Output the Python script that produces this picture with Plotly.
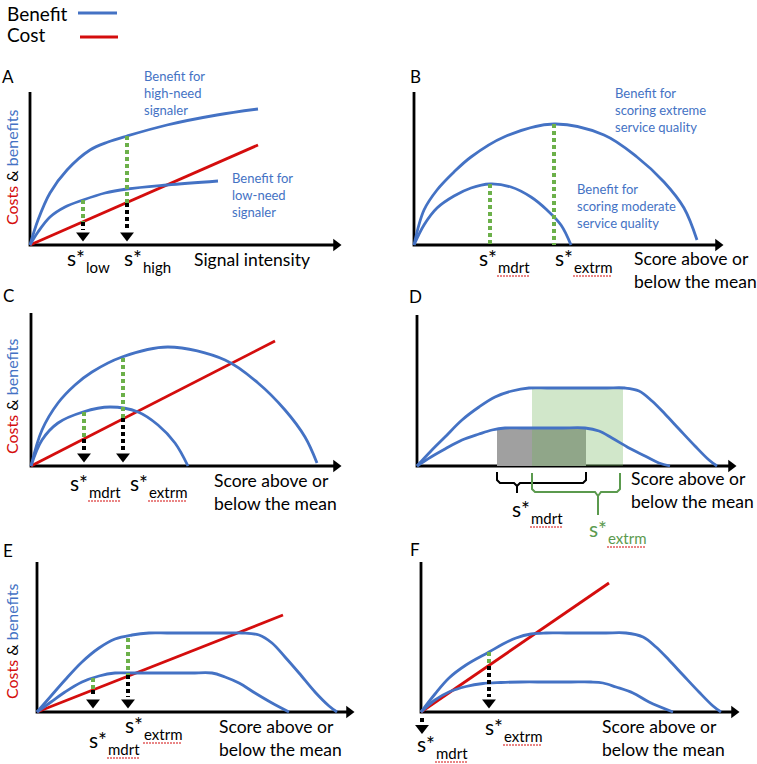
import plotly.graph_objects as go

W, H = 757, 764
FONT = "Lato"
BLUE = "#4472C4"
RED = "#D40D0D"
GREEN = "#6CB04A"
DGREEN = "#5B9A4E"
BLACK = "#000000"

# ---------------- data (panel units: x = score, y = cost/benefit; origin at axes corner) ----
# Panel A
A_high_x = [0, 8, 20, 37, 60, 78, 97, 137, 187, 228]
A_high_y = [0, 25, 52, 75, 95, 103, 109, 120, 130, 136]
A_low_x = [0, 8, 20, 35, 53, 75, 97, 137, 188]
A_low_y = [0, 13, 28, 38, 45, 52, 56, 60, 64]
A_cost_x = [0, 228]
A_cost_y = [0, 100]
A_opt_x = [53, 97]
A_opt_ben = [45, 109]
A_opt_cost = [23, 42]

# Panel B
B_ext_x = [0, 10, 23, 40, 57, 90, 140, 190, 223, 250, 270, 283]
B_ext_y = [0, 35, 55, 73, 88, 108, 121, 110, 88, 63, 37, 5]
B_mod_x = [0, 10, 23, 40, 57, 76, 97, 117, 133, 147, 157]
B_mod_y = [0, 20, 37, 49, 57, 61, 58, 48, 35, 20, 0]
B_opt_x = [76, 140]
B_opt_ben = [61, 121]

# Panel C
C_ext_x = [0, 11, 27, 44, 61, 91, 137, 194, 227, 254, 274, 286]
C_ext_y = [0, 36, 63, 81, 94, 109, 119, 106, 83, 56, 29, 3]
C_mod_x = [0, 11, 27, 52, 79, 107, 127, 144, 157]
C_mod_y = [0, 26, 43, 54, 59, 54, 41, 23, 0]
C_cost_x = [0, 244]
C_cost_y = [0, 125]
C_opt_x = [53, 92]
C_opt_ben = [54, 108]
C_opt_cost = [27, 48]

# Panel D
D_ext_x = [0, 14, 28, 45, 62, 78, 95, 112, 130, 150, 170, 190, 208, 222, 235, 248, 262, 278, 292, 300]
D_ext_y = [0, 15, 29, 46, 59, 69, 75, 78, 78, 78, 78, 78, 78, 75, 65, 52, 37, 20, 6, 0]
D_mod_x = [0, 14, 28, 45, 62, 75, 88, 105, 125, 145, 168, 182, 195, 212, 228, 242, 253]
D_mod_y = [0, 9, 17, 26, 32, 36, 38, 38, 38, 38, 38, 35, 28, 18, 10, 3, 0]
D_mod_range = [80, 169]
D_ext_range = [115, 206]

# Panel E
E_ext_x = [0, 14, 28, 45, 62, 78, 95, 112, 130, 150, 170, 190, 205, 222, 235, 248, 262, 278, 292, 300]
E_ext_y = [0, 16, 32, 50, 64, 73, 77, 79, 79, 79, 79, 79, 79, 77, 69, 55, 39, 20, 6, 0]
E_mod_x = [0, 14, 28, 45, 62, 78, 95, 115, 135, 155, 175, 188, 202, 218, 235, 252]
E_mod_y = [0, 10, 20, 30, 36, 39, 39, 39, 39, 39, 39, 35, 29, 19, 9, 0]
E_cost_x = [0, 246]
E_cost_y = [0, 97]
E_opt_x = [56, 91]
E_opt_ben = [34, 74]
E_opt_cost = [22, 37]

# Panel F
F_ext_x = [0, 14, 28, 45, 68, 82, 95, 110, 125, 145, 165, 185, 205, 222, 235, 248, 262, 278, 292, 300]
F_ext_y = [0, 18, 34, 47, 60, 68, 74, 78, 79, 79, 79, 79, 79, 75, 65, 52, 37, 20, 6, 0]
F_mod_x = [0, 14, 28, 45, 62, 80, 100, 125, 150, 170, 182, 195, 212, 228, 252]
F_mod_y = [0, 12, 20, 25.5, 28.5, 29.5, 30, 30, 30, 30, 29, 25, 19, 10, 0]
F_cost_x = [0, 188]
F_cost_y = [0, 129]
F_opt_x = [68]
F_opt_ben = [60]
F_opt_cost = [46]
F_mdrt_x = 1

# ---------------- layout of panels (pixel position of each axes origin) ----------------
ORIGIN = {"A": (30, 245), "B": (414, 245), "C": (31, 466),
          "D": (417, 466), "E": (37, 712), "F": (421, 712)}
AXLEN = {"A": (310, 153), "B": (308, 153), "C": (309, 153),
         "D": (318, 151), "E": (316, 150), "F": (317, 150)}
IDX = {k: i + 1 for i, k in enumerate("ABCDEF")}

fig = go.Figure()


def ax(p):
    i = IDX[p]
    return ("x" if i == 1 else f"x{i}"), ("y" if i == 1 else f"y{i}")


def line(p, x, y, color, width=2.8, dash=None, shape="linear", smoothing=1.0):
    xa, ya = ax(p)
    ln = dict(color=color, width=width, dash=dash, shape=shape)
    if shape == "spline":
        ln["smoothing"] = smoothing
    fig.add_trace(go.Scatter(x=x, y=y, xaxis=xa, yaxis=ya, mode="lines", line=ln,
                             hoverinfo="skip", showlegend=False))


def marker(p, x, y, symbol, size, color=BLACK):
    xa, ya = ax(p)
    fig.add_trace(go.Scatter(x=x, y=y, xaxis=xa, yaxis=ya, mode="markers",
                             marker=dict(symbol=symbol, size=size, color=color,
                                         line=dict(width=0)),
                             hoverinfo="skip", showlegend=False))


def text(p, x, y, s, size=17.5, color=BLACK, xanchor="left", yanchor="middle", angle=0):
    xa, ya = ax(p)
    fig.add_annotation(x=x, y=y, xref=xa, yref=ya, text=s, showarrow=False,
                       xanchor=xanchor, yanchor=yanchor, textangle=angle,
                       font=dict(family=FONT, size=size, color=color), align="left")


SUBW = {"mdrt": 32, "extrm": 38}


def sstar(p, x, y, sub, color=BLACK):
    text(p, x, y, "s*", size=21, color=color)
    text(p, x + 19, y - 10, sub, size=15, color=color)
    if sub in SUBW:  # spell-check squiggle under the subscript
        line(p, [x + 20, x + 20 + SUBW[sub]], [y - 19, y - 19], RED, width=1.2, dash="2px,1px")


def axes(p):
    xl, yl = AXLEN[p]
    line(p, [0, 0, xl - 6], [yl, 0, 0], BLACK, width=2.8)
    marker(p, [xl - 4], [0], "triangle-right", 11)


def drops(p, xs, ben, cost):
    for x, b, c in zip(xs, ben, cost):
        line(p, [x, x], [b, c], GREEN, width=4, dash="4px,3px")
        line(p, [x, x], [c, 15], BLACK, width=4, dash="4px,3px")
        marker(p, [x], [9.5], "triangle-down", 12)


def ylabel(p, x, y):
    text(p, x, y, f"<span style='color:{RED}'>Costs</span> &amp; "
                  f"<span style='color:{BLUE}'>benefits</span>",
         size=16, xanchor="center", yanchor="middle", angle=-90)


SCORE = "Score above or<br>below the mean"

for p in "ABCDEF":
    axes(p)

# Panel A
line("A", A_cost_x, A_cost_y, RED)
line("A", A_high_x, A_high_y, BLUE, shape="spline")
line("A", A_low_x, A_low_y, BLUE, shape="spline")
drops("A", A_opt_x, A_opt_ben, A_opt_cost)
text("A", -22, 169, "A", size=17, xanchor="center")
text("A", 112, 152, "Benefit for<br>high-need<br>signaler", size=13, color=BLUE)
text("A", 200, 50, "Benefit for<br>low-need<br>signaler", size=13, color=BLUE)
sstar("A", 35, -12, "low")
sstar("A", 92, -12, "high")
text("A", 162, -14, "Signal intensity")
ylabel("A", -19, 77)

# Panel B
line("B", B_ext_x, B_ext_y, BLUE, shape="spline")
line("B", B_mod_x, B_mod_y, BLUE, shape="spline")
for x, b in zip(B_opt_x, B_opt_ben):
    line("B", [x, x], [b, 0], GREEN, width=4, dash="4px,3px")
text("B", 1, 169, "B", size=17, xanchor="center")
text("B", 199, 135, "Benefit for<br>scoring extreme<br>service quality", size=13, color=BLUE)
text("B", 161, 39, "Benefit for<br>scoring moderate<br>service quality", size=13, color=BLUE)
sstar("B", 63, -12, "mdrt")
sstar("B", 139, -12, "extrm")
text("B", 218, -25, SCORE)

# Panel C
line("C", C_cost_x, C_cost_y, RED)
line("C", C_ext_x, C_ext_y, BLUE, shape="spline")
line("C", C_mod_x, C_mod_y, BLUE, shape="spline")
drops("C", C_opt_x, C_opt_ben, C_opt_cost)
text("C", -23, 171, "C", size=17, xanchor="center")
sstar("C", 37, -16, "mdrt")
sstar("C", 97, -16, "extrm")
text("C", 181, -26, SCORE)
ylabel("C", -20, 69)

# Panel D
xa, ya = ax("D")
g0, g1 = D_mod_range
e0, e1 = D_ext_range
fig.add_trace(go.Scatter(x=[g0, g1, g1, g0, g0], y=[0, 0, max(D_mod_y), max(D_mod_y), 0],
                         xaxis=xa, yaxis=ya, fill="toself", mode="none",
                         fillcolor="rgba(160,160,160,1)", hoverinfo="skip", showlegend=False))
fig.add_trace(go.Scatter(x=[e0, e1, e1, e0, e0], y=[0, 0, max(D_ext_y), max(D_ext_y), 0],
                         xaxis=xa, yaxis=ya, fill="toself", mode="none",
                         fillcolor="rgba(112,180,90,0.32)", hoverinfo="skip", showlegend=False))
line("D", D_ext_x, D_ext_y, BLUE, shape="spline")
line("D", D_mod_x, D_mod_y, BLUE, shape="spline")
# brackets
line("D", [g0, g0, g0 + 3, 97, 100, 100, None, 100, 103, g1 - 3, g1, g1],
     [-6, -14, -17, -17, -20, -27, None, -20, -17, -17, -14, -6], BLACK, width=2)
line("D", [e0, e0, e0 + 3, 178, 181, 181, None, 181, 184, 200, 203, 203],
     [-7, -23, -26, -26, -30, -49, None, -30, -26, -26, -23, -7], DGREEN, width=2)
text("D", -2, 170, "D", size=17, xanchor="center")
sstar("D", 93, -42, "mdrt")
sstar("D", 170, -62, "extrm", color=DGREEN)
text("D", 212, -24, SCORE)

# Panel E
line("E", E_cost_x, E_cost_y, RED)
line("E", E_ext_x, E_ext_y, BLUE, shape="spline")
line("E", E_mod_x, E_mod_y, BLUE, shape="spline")
drops("E", E_opt_x, E_opt_ben, E_opt_cost)
text("E", -29, 162, "E", size=17, xanchor="center")
sstar("E", 86, -12, "extrm")
sstar("E", 50, -27, "mdrt")
text("E", 180, -26, SCORE)
ylabel("E", -26, 70)

# Panel F
line("F", F_cost_x, F_cost_y, RED)
line("F", F_ext_x, F_ext_y, BLUE, shape="spline")
line("F", F_mod_x, F_mod_y, BLUE, shape="spline")
drops("F", F_opt_x, F_opt_ben, F_opt_cost)
line("F", [F_mdrt_x, F_mdrt_x], [-6, -11], BLACK, width=4, dash="4px,3px")
marker("F", [F_mdrt_x], [-16], "triangle-down", 12)
text("F", -6, 163, "F", size=17, xanchor="center")
sstar("F", -6, -31, "mdrt")
sstar("F", 62, -14, "extrm")
text("F", 179, -26, SCORE)

# ---------------- axes (each panel maps its units onto the page) ----------------
for p, i in IDX.items():
    ox, oy = ORIGIN[p]
    sx = "xaxis" if i == 1 else f"xaxis{i}"
    sy = "yaxis" if i == 1 else f"yaxis{i}"
    fig.update_layout(**{
        sx: dict(domain=[0, 1], range=[-ox, W - ox], visible=False, fixedrange=True,
                 anchor="y" if i == 1 else f"y{i}"),
        sy: dict(domain=[0, 1], range=[oy - H, oy], visible=False, fixedrange=True,
                 anchor="x" if i == 1 else f"x{i}"),
    })

# legend (drawn manually: text left of the line sample)
for label, ypx in (("Benefit", 13), ("Cost", 35)):
    fig.add_annotation(x=5 / W, y=(H - ypx) / H, xref="paper", yref="paper", text=label,
                       showarrow=False, xanchor="left", yanchor="middle",
                       font=dict(family=FONT, size=19, color=BLACK))
fig.add_shape(type="line", xref="paper", yref="paper", x0=78 / W, x1=117 / W,
              y0=(H - 13) / H, y1=(H - 13) / H, line=dict(color=BLUE, width=3))
fig.add_shape(type="line", xref="paper", yref="paper", x0=80 / W, x1=118 / W,
              y0=(H - 37) / H, y1=(H - 37) / H, line=dict(color=RED, width=3))

fig.update_layout(width=W, height=H, margin=dict(l=0, r=0, t=0, b=0),
                  plot_bgcolor="rgba(0,0,0,0)", paper_bgcolor="white", showlegend=False)

html = fig.to_html(include_plotlyjs=True, full_html=True,
                   config={"displayModeBar": False, "staticPlot": True})
html = html.replace("<body>", "<body style=\"margin:0;padding:0;overflow:hidden\">", 1)
html = html.replace("<head>", "<head><style>html,body{margin:0;padding:0;}</style>", 1)
with open("out.html", "w", encoding="utf-8") as f:
    f.write(html)
